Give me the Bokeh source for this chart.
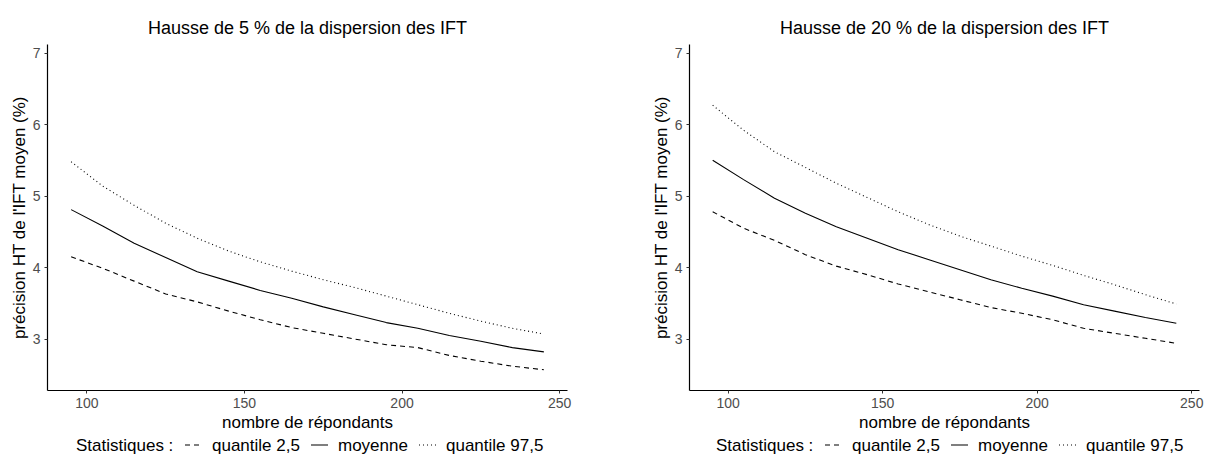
from bokeh.plotting import figure
from bokeh.models import Range1d, FixedTicker
from bokeh.layouts import row, column
from bokeh.core.properties import value
from bokeh.embed import file_html
from bokeh.resources import INLINE

# ---- data ----
n_repondants = [95, 105, 115, 125, 135, 145, 155, 165, 175, 185, 195, 205, 215, 225, 235, 245]

panel_titles = ["Hausse de 5 % de la dispersion des IFT",
                "Hausse de 20 % de la dispersion des IFT"]

q025_5 = [4.15, 3.99, 3.81, 3.63, 3.52, 3.39, 3.27, 3.16, 3.08, 3.00, 2.92, 2.88, 2.77, 2.69, 2.62, 2.57]
moy_5 = [4.81, 4.58, 4.34, 4.14, 3.94, 3.81, 3.68, 3.57, 3.45, 3.34, 3.23, 3.15, 3.05, 2.97, 2.88, 2.82]
q975_5 = [5.48, 5.14, 4.87, 4.62, 4.41, 4.23, 4.08, 3.95, 3.83, 3.72, 3.60, 3.48, 3.36, 3.25, 3.15, 3.07]

q025_20 = [4.78, 4.55, 4.38, 4.18, 4.02, 3.90, 3.77, 3.66, 3.55, 3.44, 3.36, 3.27, 3.15, 3.08, 3.01, 2.94]
moy_20 = [5.50, 5.23, 4.97, 4.76, 4.57, 4.41, 4.25, 4.11, 3.97, 3.83, 3.71, 3.60, 3.48, 3.39, 3.30, 3.22]
q975_20 = [6.27, 5.92, 5.62, 5.40, 5.18, 4.98, 4.78, 4.60, 4.44, 4.30, 4.16, 4.03, 3.89, 3.76, 3.62, 3.49]

series_labels = ["quantile 2,5", "moyenne", "quantile 97,5"]
legend_title = "Statistiques :"
x_ticks = [100, 150, 200, 250]
y_ticks = [3, 4, 5, 6, 7]
x_label = "nombre de répondants"
y_label = "précision HT de l'IFT moyen (%)"

FONT = "Liberation Sans"
dashes = ["5 4", "solid", "1 3"]

# approximate rendered widths (px) of the legend texts at 17px, used only for layout
text_w = {"Statistiques :": 97, "quantile 2,5": 88, "moyenne": 70, "quantile 97,5": 97}


def make_panel(title, series, width, b_left, b_right):
    p = figure(width=width, height=435, output_backend="svg", toolbar_location=None,
               x_range=Range1d(87.5, 252.5), y_range=Range1d(2.28, 7.12),
               title=title,
               min_border_left=b_left, min_border_right=b_right,
               min_border_top=44, min_border_bottom=45,
               outline_line_color=None)
    p.title.align = "center"
    p.title.text_font = FONT
    p.title.text_font_size = "18px"
    p.title.text_font_style = "normal"
    p.title.text_color = "black"
    p.title.standoff = 13
    p.grid.visible = False

    for ax in (p.xaxis[0], p.yaxis[0]):
        ax.axis_line_color = "black"
        ax.axis_line_width = 1.2
        ax.major_tick_line_color = "#333333"
        ax.major_tick_out = 3
        ax.major_tick_in = 0
        ax.minor_tick_line_color = None
        ax.major_label_text_font = FONT
        ax.major_label_text_font_size = "14px"
        ax.major_label_text_color = "#4D4D4D"
        ax.axis_label_text_font = FONT
        ax.axis_label_text_font_size = "17px"
        ax.axis_label_text_font_style = "normal"
        ax.axis_label_text_color = "black"
    p.xaxis[0].ticker = FixedTicker(ticks=x_ticks)
    p.yaxis[0].ticker = FixedTicker(ticks=y_ticks)
    p.xaxis[0].axis_label = x_label
    p.yaxis[0].axis_label = y_label
    p.xaxis[0].major_label_standoff = 4
    p.xaxis[0].axis_label_standoff = 2
    p.yaxis[0].major_label_standoff = 4
    p.yaxis[0].axis_label_standoff = 1

    for vals, dash in zip(series, dashes):
        p.line(n_repondants, vals, line_color="black", line_width=1.1, line_dash=dash)
    return p


def make_legend(width, b_left, b_right, center):
    frame_w = width - b_left - b_right
    lg = figure(width=width, height=19, output_backend="svg", toolbar_location=None,
                x_axis_type=None, y_axis_type=None,
                x_range=Range1d(0, frame_w), y_range=Range1d(0, 1),
                min_border_left=b_left, min_border_right=b_right,
                min_border_top=0, min_border_bottom=0, outline_line_color=None)
    key_w, standoff, spacing, title_gap = 17, 10, 11, 12
    total = text_w[legend_title] + title_gap
    total += sum(key_w + standoff + text_w[s] for s in series_labels) + spacing * (len(series_labels) - 1)
    x = center - total / 2
    tx, tt = [x], [legend_title]
    x += text_w[legend_title] + title_gap
    for lab, dash in zip(series_labels, dashes):
        lg.line([x, x + key_w], [0.5, 0.5], line_color="black", line_width=1.1, line_dash=dash)
        x += key_w + standoff
        tx.append(x)
        tt.append(lab)
        x += text_w[lab] + spacing
    lg.text(x=tx, y=[0.5] * len(tx), text=tt, text_baseline="middle", text_align="left",
            text_font=value(FONT), text_font_size="17px", text_color="black")
    return lg


W1, W2 = 636, 568
p1 = make_panel(panel_titles[0], [q025_5, moy_5, q975_5], W1, 47, 69)
p2 = make_panel(panel_titles[1], [q025_20, moy_20, q975_20], W2, 53, 5)
l1 = make_legend(W1, 47, 69, 262)
l2 = make_legend(W2, 53, 5, 260)

layout = row(column(p1, l1), column(p2, l2))
open("out.html", "w").write(file_html(layout, INLINE))
